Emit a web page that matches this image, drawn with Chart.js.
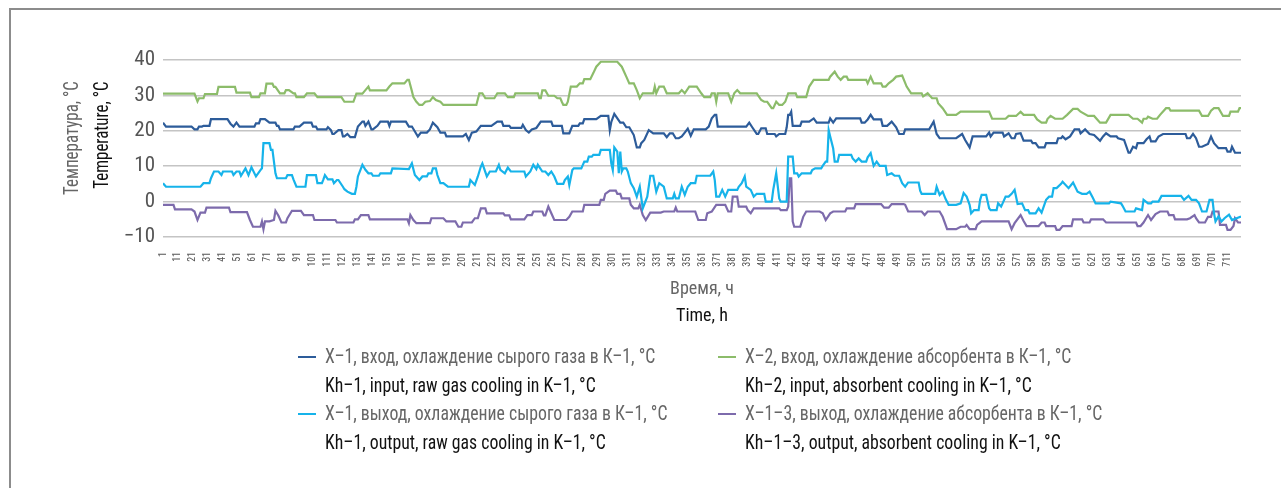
<!DOCTYPE html>
<html>
<head>
<meta charset="utf-8">
<script src="https://cdn.jsdelivr.net/npm/chart.js@4/dist/chart.umd.min.js"></script>
<style>
  html, body { margin: 0; padding: 0; background: #fff; }
  #wrap { position: relative; width: 1281px; height: 488px; overflow: hidden; font-family: "Roboto Condensed", sans-serif; }
  #frame { position: absolute; left: 9px; top: 8px; right: -4px; bottom: -4px; border-top: 2px solid #8c8c8c; border-left: 2px solid #8c8c8c; }
  canvas { position: absolute; left: 0; top: 0; }
  .ru { color: #666; }
  .en { color: #111; }
  .rot { position: absolute; white-space: nowrap; font-size: 19.5px; transform: translate(-50%, -50%) rotate(-90deg) scaleX(0.87); }
  .xt { position: absolute; white-space: nowrap; font-size: 19px; transform: translate(-50%, -50%) scaleX(0.95); }
  .leg { position: absolute; font-size: 19.5px; line-height: 28.5px; white-space: nowrap; transform: scaleX(0.91); transform-origin: 0 0; }
  .mk { position: absolute; width: 18px; height: 2px; }
</style>
</head>
<body>
<div id="wrap">
  <div id="frame"></div>
  <canvas id="chart" width="1281" height="488"></canvas>
  <div class="rot ru" style="left:71px; top:138px">Температура, °C</div>
  <div class="rot en" style="left:101px; top:135px">Temperature, °C</div>
  <div class="xt ru" style="left:702px; top:287px">Время, ч</div>
  <div class="xt en" style="left:702px; top:314px">Time, h</div>
  <div id="legend"></div>
</div>
<script>
// temperatures, [hour, °C] at each visible corner
const kh1In = [[1,22.3],[3,21.2],[20,21.2],[22,20.4],[24,20.4],[25,21.2],[27,21.2],[28,21.4],[32,21.4],[33,23.3],[44,23.3],[46,22.0],[48,21.2],[50,22.3],[52,21.2],[62,21.2],[63,22.1],[65,22.1],[66,23.3],[69,23.3],[72,22.3],[76,22.3],[77,21.4],[78,21.4],[79,20.4],[88,20.4],[89,21.2],[92,21.2],[95,22.3],[100,22.3],[101,21.2],[103,21.2],[104,20.4],[110,20.4],[111,21.0],[113,20.2],[114,19.1],[115,19.1],[118,20.2],[120,20.2],[121,18.4],[122,18.4],[124,19.1],[126,18.2],[129,18.2],[131,21.2],[134,22.6],[135,22.6],[136,21.4],[138,22.6],[140,20.4],[141,20.4],[144,21.4],[146,22.6],[151,22.6],[152,21.4],[153,22.6],[163,22.6],[165,21.2],[167,21.2],[169,19.8],[171,18.4],[173,19.5],[177,19.5],[179,20.4],[181,22.3],[184,21.0],[186,19.5],[189,19.5],[190,18.4],[201,18.4],[203,19.1],[205,17.4],[207,19.5],[210,19.8],[213,21.4],[220,21.4],[224,22.6],[227,22.6],[228,21.4],[232,21.4],[233,20.8],[240,20.8],[241,21.7],[243,20.2],[245,19.5],[247,20.4],[250,20.8],[253,22.6],[260,22.6],[261,21.4],[267,21.4],[268,19.3],[272,19.3],[274,21.4],[278,21.4],[279,22.1],[281,22.1],[282,23.3],[290,23.3],[293,24.2],[298,24.2],[299,20.2],[300,22.5],[302,24.8],[306,22.3],[308,22.3],[310,21.0],[312,21.0],[315,18.8],[317,15.3],[319,15.3],[320,16.5],[322,17.4],[325,20.2],[328,19.3],[335,19.3],[337,18.2],[339,19.3],[341,19.3],[343,17.9],[345,17.9],[347,18.4],[349,19.5],[351,20.6],[353,18.6],[355,20.4],[363,20.4],[365,21.2],[367,23.5],[369,24.5],[370,24.5],[371,21.2],[390,21.2],[392,22.3],[394,21.0],[397,19.1],[398,19.1],[400,20.7],[403,20.7],[404,19.1],[409,19.1],[410,18.4],[412,19.1],[416,19.1],[417,21.0],[418,24.5],[419,24.5],[420,25.4],[421,21.4],[426,21.4],[427,22.6],[432,22.6],[435,23.5],[437,22.3],[445,22.3],[446,23.5],[448,22.3],[450,23.5],[466,23.5],[467,22.3],[469,22.3],[471,23.2],[473,24.5],[475,23.2],[480,23.2],[481,21.4],[484,21.4],[487,22.6],[490,21.0],[492,19.1],[495,19.1],[496,20.4],[512,20.4],[515,22.6],[517,19.1],[519,17.9],[530,17.9],[534,19.1],[536,17.4],[539,15.3],[541,18.4],[550,18.4],[552,19.5],[553,18.4],[555,19.5],[561,19.5],[562,18.4],[565,19.3],[567,17.9],[569,17.9],[570,19.1],[573,19.3],[575,17.2],[580,17.2],[581,16.5],[583,16.5],[585,15.3],[589,15.3],[590,16.5],[597,16.5],[598,17.9],[600,17.9],[601,18.4],[603,17.6],[606,18.4],[609,20.4],[612,20.4],[613,19.3],[616,20.4],[619,19.1],[622,18.8],[626,17.2],[628,18.4],[630,19.3],[633,18.4],[637,18.4],[638,17.9],[642,17.4],[645,13.8],[646,13.8],[648,15.5],[650,15.1],[651,16.5],[655,16.5],[657,17.6],[659,18.4],[660,17.0],[663,17.0],[665,18.4],[668,19.1],[683,19.1],[684,17.9],[686,17.9],[688,19.1],[690,17.9],[692,15.5],[694,15.5],[698,16.3],[700,18.4],[702,16.5],[705,15.1],[710,15.1],[711,14.1],[713,14.1],[714,15.5],[716,13.8],[720,13.8]];

const kh2In = [[1,30.5],[22,30.5],[24,28.3],[25,29.2],[28,29.2],[29,30.4],[37,30.4],[38,32.4],[49,32.4],[50,30.8],[59,30.8],[60,29.5],[65,29.5],[66,30.6],[69,30.6],[70,33.3],[74,33.3],[75,32.4],[76,32.4],[79,30.6],[82,30.6],[83,31.5],[85,31.5],[88,30.6],[89,30.6],[90,29.5],[95,29.5],[97,30.6],[102,30.6],[104,29.5],[120,29.5],[122,28.2],[128,28.2],[130,30.5],[134,30.5],[136,31.5],[138,32.5],[139,31.4],[150,31.4],[152,32.5],[154,33.4],[162,33.4],[164,34.4],[165,34.4],[167,31.2],[168,29.5],[170,28.2],[172,27.3],[174,27.3],[176,28.2],[179,28.4],[181,29.5],[183,28.7],[186,28.2],[188,27.3],[210,27.3],[212,30.6],[214,30.6],[216,29.2],[222,29.2],[224,30.6],[229,30.6],[231,29.5],[235,29.5],[236,30.6],[251,30.6],[252,29.2],[253,29.2],[254,31.4],[256,31.4],[258,29.9],[262,29.9],[264,29.2],[266,29.2],[267,28.2],[268,27.3],[270,27.3],[271,28.2],[273,32.5],[277,32.5],[279,33.4],[281,33.4],[282,34.6],[286,34.6],[288,36.3],[290,38.1],[293,39.5],[304,39.5],[307,38.1],[310,35.3],[312,33.4],[315,33.4],[317,31.5],[319,29.2],[321,30.6],[328,30.6],[329,32.5],[330,30.6],[332,32.5],[335,32.5],[337,30.6],[345,30.6],[347,31.5],[349,30.6],[352,32.5],[357,32.5],[360,30.6],[362,29.5],[366,29.5],[367,30.6],[369,30.6],[370,28.2],[371,30.6],[378,30.6],[380,28.2],[382,30.6],[384,31.5],[386,30.6],[397,30.6],[400,28.7],[402,28.2],[404,28.2],[407,26.4],[408,26.4],[410,28.2],[412,27.3],[414,27.3],[416,28.2],[418,30.6],[423,30.6],[424,29.5],[430,29.5],[432,32.5],[435,34.4],[445,34.4],[446,35.3],[449,36.7],[451,35.3],[453,34.4],[455,35.3],[457,35.3],[458,34.4],[470,34.4],[471,33.4],[473,35.3],[475,33.4],[480,33.4],[481,32.5],[483,32.5],[485,33.4],[488,34.4],[490,35.3],[494,35.6],[497,32.5],[500,30.6],[507,30.6],[508,29.7],[511,30.6],[514,29.2],[517,29.2],[518,27.8],[521,26.4],[524,24.5],[530,24.5],[533,25.4],[552,25.4],[554,23.4],[563,23.4],[565,24.2],[570,24.2],[573,25.4],[575,24.5],[582,24.5],[584,23.2],[587,22.3],[590,22.3],[591,23.4],[593,24.2],[596,23.4],[601,23.4],[604,24.5],[608,26.2],[611,26.2],[613,25.4],[618,24.2],[622,24.2],[626,22.3],[630,22.3],[633,24.5],[645,24.5],[648,23.4],[651,23.4],[654,22.3],[655,23.4],[657,23.4],[658,24.0],[661,23.4],[664,23.4],[666,24.5],[670,26.4],[672,26.4],[673,25.7],[692,25.7],[694,24.2],[698,24.2],[700,25.7],[702,26.4],[705,26.4],[708,24.2],[712,24.2],[713,25.4],[718,25.4],[719,26.4],[720,26.4]];

const kh1Out = [[1,5.2],[3,4.2],[26,4.2],[28,5.2],[32,5.2],[33,6.6],[35,8.5],[38,8.5],[40,7.5],[41,8.5],[47,8.5],[48,7.5],[50,8.5],[52,8.5],[53,7.3],[56,9.4],[58,7.5],[60,9.7],[63,7.1],[66,8.9],[67,9.4],[68,16.5],[72,16.5],[73,14.6],[74,14.6],[76,8.0],[77,6.6],[83,6.6],[84,7.5],[87,7.5],[88,6.3],[90,4.2],[96,4.2],[97,7.5],[103,7.5],[104,5.2],[107,5.2],[108,6.3],[109,7.5],[111,6.3],[114,6.3],[115,5.2],[117,6.1],[118,6.1],[121,4.2],[122,3.5],[124,2.8],[127,2.2],[129,2.2],[130,4.2],[131,7.1],[134,10.4],[136,9.0],[138,8.0],[140,8.0],[141,7.3],[145,7.3],[146,8.0],[153,8.0],[154,9.4],[165,9.2],[167,10.8],[169,7.5],[172,6.1],[174,7.1],[177,7.1],[178,8.0],[180,8.0],[181,9.4],[183,9.4],[184,7.5],[186,5.2],[188,5.2],[191,4.2],[205,4.2],[206,6.1],[209,4.7],[211,7.1],[213,9.9],[214,10.8],[217,7.1],[219,8.5],[223,8.5],[225,10.4],[226,9.0],[229,8.0],[231,9.6],[233,8.5],[242,8.5],[243,7.1],[246,8.5],[248,10.4],[250,9.2],[251,10.4],[254,8.5],[256,8.5],[258,7.5],[260,8.5],[262,7.1],[264,5.0],[268,5.0],[269,6.1],[271,7.1],[272,4.7],[274,8.9],[275,9.4],[280,9.4],[282,11.3],[284,11.3],[285,12.7],[287,12.7],[288,13.2],[292,13.2],[293,14.6],[299,14.6],[300,10.8],[301,8.9],[302,15.3],[304,14.1],[305,8.0],[306,14.1],[307,8.5],[308,9.4],[310,9.4],[311,8.5],[313,5.2],[315,3.8],[317,1.4],[319,4.2],[321,-1.9],[324,1.4],[326,7.3],[328,7.3],[329,5.0],[330,2.8],[332,5.2],[335,4.2],[337,0.9],[341,0.9],[342,2.2],[343,0.9],[345,0.9],[347,4.2],[349,1.9],[351,4.2],[353,5.2],[356,5.2],[357,7.3],[366,7.3],[368,8.5],[369,6.1],[370,1.4],[372,1.4],[374,3.3],[376,1.4],[378,3.3],[384,3.3],[385,4.2],[387,5.2],[389,7.1],[390,4.2],[393,3.3],[395,1.4],[397,2.2],[402,2.2],[403,0.0],[407,0.0],[408,3.3],[410,8.0],[412,0.9],[413,0.0],[417,0.0],[418,12.7],[421,12.7],[422,8.0],[424,8.0],[425,7.1],[427,8.0],[433,8.0],[434,8.9],[436,9.4],[440,9.4],[441,10.1],[443,11.3],[444,11.3],[445,20.2],[446,18.4],[448,15.0],[449,11.3],[451,11.3],[452,13.2],[460,13.2],[461,12.2],[463,11.3],[465,12.2],[467,11.3],[470,11.3],[471,12.5],[473,13.7],[475,10.1],[477,11.3],[479,10.1],[483,10.1],[484,7.5],[487,8.0],[489,7.3],[492,7.3],[494,5.2],[496,4.2],[498,5.4],[505,5.4],[506,3.1],[507,2.2],[516,2.2],[517,4.2],[519,1.9],[521,2.8],[523,0.7],[525,-0.9],[530,-0.9],[533,-0.5],[535,2.4],[537,1.4],[539,-0.9],[540,-3.3],[542,-2.4],[545,-2.4],[546,0.5],[547,1.9],[550,1.9],[552,-1.9],[553,-2.4],[557,-2.4],[558,-0.5],[560,-1.4],[561,-0.5],[563,1.4],[565,1.4],[567,2.2],[569,3.3],[571,-0.7],[574,-0.5],[576,-2.4],[578,-2.4],[579,-3.3],[583,-3.3],[585,-1.9],[587,-3.1],[590,0.5],[592,1.4],[594,1.4],[595,3.8],[597,3.8],[600,5.0],[601,5.6],[605,3.8],[608,5.4],[611,2.8],[614,2.2],[617,2.2],[619,2.8],[621,1.2],[623,-0.5],[632,-0.5],[633,0.0],[640,-0.5],[641,-1.2],[643,-2.8],[649,-2.8],[650,-1.9],[654,-2.4],[655,0.5],[658,-0.5],[660,-0.5],[661,0.0],[665,0.0],[667,1.6],[680,1.6],[682,0.5],[685,1.6],[687,0.5],[690,0.5],[692,-0.5],[694,-2.8],[697,-2.8],[699,0.5],[701,0.5],[702,-3.3],[703,-5.6],[705,-4.2],[707,-5.6],[709,-4.7],[712,-3.7],[714,-5.2],[717,-4.7],[720,-4.2]];

const kh13Out = [[1,-0.9],[8,-0.9],[9,-2.2],[20,-2.2],[22,-2.8],[24,-5.2],[26,-3.1],[29,-3.1],[30,-1.7],[45,-1.7],[46,-3.0],[57,-3.0],[59,-5.2],[61,-7.1],[66,-7.1],[67,-5.6],[68,-7.8],[69,-5.6],[72,-5.6],[75,-5.2],[76,-2.6],[78,-4.0],[80,-5.9],[83,-5.9],[84,-4.7],[87,-2.6],[93,-2.6],[95,-3.8],[101,-3.8],[102,-5.2],[116,-5.2],[117,-5.9],[128,-5.9],[129,-5.0],[131,-5.0],[133,-3.8],[138,-3.8],[139,-5.0],[164,-5.0],[165,-6.1],[166,-3.8],[168,-5.2],[170,-6.1],[179,-6.1],[180,-4.7],[188,-4.7],[190,-5.6],[196,-5.6],[198,-7.1],[200,-7.1],[201,-5.9],[207,-5.9],[209,-4.7],[211,-4.7],[213,-1.9],[216,-1.9],[217,-3.3],[228,-3.3],[229,-3.9],[232,-3.9],[233,-5.0],[242,-5.0],[244,-3.8],[247,-3.8],[248,-2.8],[254,-2.8],[255,-3.9],[256,-3.9],[258,-1.4],[260,-3.3],[262,-5.2],[270,-5.2],[272,-4.3],[274,-2.8],[281,-2.8],[282,-0.9],[292,-0.9],[293,0.5],[295,0.5],[296,2.2],[299,3.1],[303,3.1],[304,2.2],[306,2.2],[307,0.9],[312,0.9],[313,-0.9],[315,-1.9],[318,-1.9],[319,-0.9],[321,-3.8],[323,-5.2],[326,-3.1],[333,-3.1],[335,-2.8],[342,-2.8],[343,-1.7],[344,-2.8],[356,-2.8],[358,-5.2],[363,-5.2],[364,-3.3],[367,-2.8],[370,-0.9],[376,-0.9],[378,-2.8],[380,-2.8],[381,1.4],[384,1.4],[385,-1.4],[390,-1.4],[391,-2.4],[393,-3.3],[395,-1.9],[412,-1.9],[413,-2.4],[417,-2.4],[418,-1.4],[419,6.6],[420,6.6],[421,-5.6],[422,-7.1],[426,-7.1],[428,-4.3],[430,-2.8],[439,-2.8],[441,-3.3],[443,-5.2],[446,-3.3],[448,-2.8],[456,-2.8],[457,-1.9],[462,-1.9],[463,-0.7],[480,-0.7],[482,-1.7],[485,-1.7],[487,-0.7],[495,-0.7],[496,-0.9],[498,-2.8],[507,-2.8],[509,-3.8],[511,-2.8],[519,-2.8],[521,-4.3],[524,-7.8],[530,-7.8],[533,-7.1],[536,-7.1],[537,-6.6],[539,-7.8],[543,-7.8],[544,-6.6],[547,-5.6],[565,-5.6],[567,-7.8],[569,-6.1],[573,-3.8],[575,-5.5],[577,-6.9],[585,-6.9],[587,-5.9],[589,-5.9],[590,-6.9],[596,-6.9],[597,-8.0],[599,-8.0],[601,-6.9],[607,-6.9],[608,-5.0],[614,-5.0],[615,-5.9],[619,-5.9],[620,-5.0],[628,-5.0],[630,-5.9],[650,-5.9],[651,-6.9],[653,-6.9],[655,-5.9],[658,-3.8],[660,-5.2],[663,-3.5],[666,-2.8],[671,-2.8],[672,-3.8],[675,-3.8],[676,-5.0],[684,-5.0],[686,-4.7],[689,-3.8],[690,-4.7],[692,-5.9],[696,-5.9],[698,-4.3],[700,-4.3],[701,-2.8],[705,-2.8],[706,-6.6],[710,-6.6],[711,-8.0],[713,-8.0],[715,-6.9],[716,-4.7],[718,-5.9],[720,-5.9]];

const xTicks = [1,11,21,31,41,51,61,71,81,91,101,111,121,131,141,151,161,171,181,191,201,211,221,231,241,251,261,271,281,291,301,311,321,331,341,351,361,371,381,391,401,411,421,431,441,451,461,471,481,491,501,511,521,531,541,551,561,571,581,591,601,611,621,631,641,651,661,671,681,691,701,711];
const yTicks = [-10, 0, 10, 20, 30, 40];

const seriesRu = ['Х–1, вход, охлаждение сырого газа в К–1, °C', 'Х–2, вход, охлаждение абсорбента в К–1, °C', 'Х–1, выход, охлаждение сырого газа в К–1, °C', 'Х–1–3, выход, охлаждение абсорбента в К–1, °C'];
const seriesEn = ['Kh–1, input, raw gas cooling in K–1, °C', 'Kh–2, input, absorbent cooling in K–1, °C', 'Kh–1, output, raw gas cooling in K–1, °C', 'Kh–1–3, output, absorbent cooling in K–1, °C'];

const C1 = '#2d5c9a', C2 = '#8cbc6a', C3 = '#16b3ea', C4 = '#7d6bac';
const GRID = '#c4c4c4', DIM = '#555';
const FONT = '"Roboto Condensed", sans-serif';

const colors = [C1, C2, C3, C4];
const sets = [kh1In, kh2In, kh1Out, kh13Out];

// legend, two columns filled row by row
const leg = document.getElementById('legend');
const colX = [325, 745], rowY = [343, 400];
seriesRu.forEach((ru, i) => {
    const col = i % 2, row = Math.floor(i / 2);
    const mk = document.createElement('div');
    mk.className = 'mk';
    mk.style.cssText = `left:${colX[col] - 27}px; top:${rowY[row] + 13}px; background:${colors[i]}`;
    leg.appendChild(mk);
    const t = document.createElement('div');
    t.className = 'leg';
    t.style.cssText = `left:${colX[col]}px; top:${rowY[row]}px`;
    t.innerHTML = `<div class="ru">${ru}</div><div class="en">${seriesEn[i]}</div>`;
    leg.appendChild(t);
});

new Chart(document.getElementById('chart'), {
    type: 'line',
    data: {
        datasets: sets.map((pts, i) => ({
            label: seriesRu[i],
            data: pts.map(p => ({ x: p[0], y: p[1] })),
            borderColor: colors[i], borderWidth: 2.2, pointRadius: 0, tension: 0, fill: false
        }))
    },
    options: {
        responsive: false, animation: false, devicePixelRatio: 1,
        layout: { padding: { left: 93, top: 60, right: 40, bottom: 201 } },
        plugins: { legend: { display: false }, tooltip: { enabled: false } },
        scales: {
            x: {
                type: 'linear', min: 1, max: 720,
                afterBuildTicks: ax => { ax.ticks = xTicks.map(v => ({ value: v })); },
                afterFit: s => { s.height = 50; },
                grid: { display: false }, border: { display: false },
                ticks: { autoSkip: false, minRotation: 90, maxRotation: 90, padding: 7, color: DIM, font: { family: FONT, size: 10 }, callback: v => String(v) }
            },
            y: {
                min: -10, max: 40,
                afterBuildTicks: ax => { ax.ticks = yTicks.map(v => ({ value: v })); },
                afterFit: s => { s.width = 70; },
                grid: { color: GRID, lineWidth: 1.5, drawTicks: false }, border: { display: false },
                ticks: { padding: 8, color: DIM, font: { family: FONT, size: 21 }, callback: v => v < 0 ? '−' + Math.abs(v) : String(v) }
            }
        }
    }
});
</script>
</body>
</html>
